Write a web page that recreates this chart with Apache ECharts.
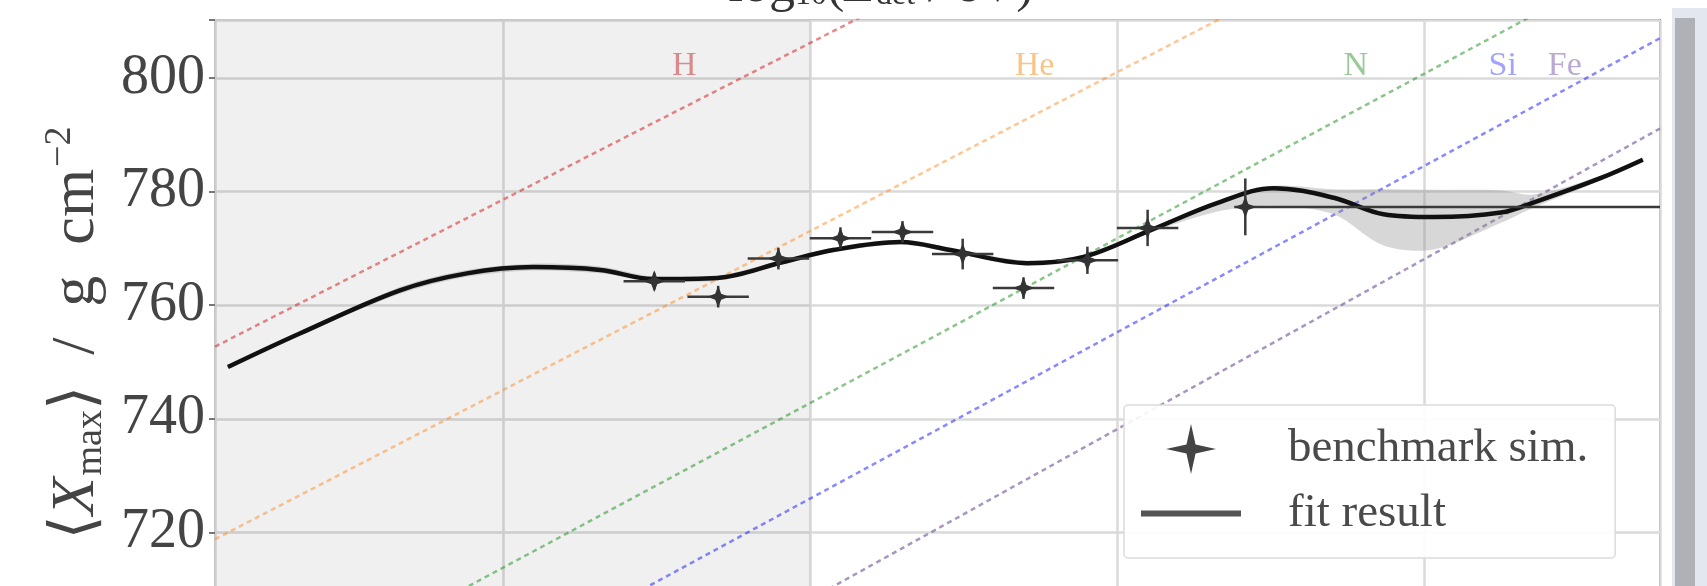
<!DOCTYPE html>
<html><head><meta charset="utf-8">
<script src="https://cdn.jsdelivr.net/npm/echarts@6/dist/echarts.min.js"></script>
<style>html,body{margin:0;padding:0;background:#fff}#c{width:1707px;height:586px}</style>
</head><body><div id="c"></div>
<script>
// ---- data ----
const xRange = [18.031, 20.383];
const yRange = [700, 810.2];
const yTickStep = 20;
// benchmark simulation points
const ptE   = [18.746, 18.850, 18.948, 19.049, 19.150, 19.248, 19.347, 19.451, 19.549, 19.708];
const ptV   = [764.2, 761.5, 768.2, 771.8, 772.9, 769.0, 763.0, 767.9, 773.6, 777.3];
const ptXlo = [18.696, 18.800, 18.898, 18.999, 19.100, 19.198, 19.297, 19.401, 19.499, 19.690];
const ptXhi = [18.796, 18.900, 18.998, 19.099, 19.200, 19.298, 19.397, 19.501, 19.599, 20.383];
const ptYerr = [1.5, 1.9, 1.9, 1.9, 1.9, 2.7, 1.9, 2.4, 3.2, 5.0];
// fit result
const fitE = [18.052, 18.169, 18.332, 18.441, 18.549, 18.658, 18.744, 18.849, 18.956, 19.037, 19.147, 19.228, 19.353, 19.445, 19.554, 19.663, 19.754, 19.852, 19.933, 20.015, 20.124, 20.178, 20.287, 20.355];
const fitV = [749.1, 755.0, 762.6, 765.6, 766.7, 766.2, 764.6, 764.8, 767.6, 769.7, 771.1, 769.7, 767.4, 768.5, 773.2, 778.0, 780.6, 778.9, 776.0, 775.5, 776.3, 778.1, 782.4, 785.6];
const bandLo = [748.9, 754.7, 762.0, 765.0, 766.1, 765.6, 764.2, 764.4, 767.2, 769.3, 770.7, 769.3, 767.0, 768.1, 772.8, 776.5, 777.5, 776.0, 770.5, 769.8, 774.5, 777.2, 782.0, 785.3];
const bandHi = [749.3, 755.3, 763.2, 766.2, 767.3, 766.8, 765.0, 765.2, 768.0, 770.1, 771.5, 770.1, 767.8, 768.9, 773.6, 778.4, 781.0, 780.4, 780.4, 780.3, 780.2, 779.5, 782.8, 785.9];
// composition reference lines (value at xRange[0] and xRange[1])
const compNames = ['H', 'He', 'N', 'Si', 'Fe'];
const compStart = [752.7, 718.8, 686.6, 669.2, 650.2];
const compEnd   = [882.5, 850.5, 823.0, 807.0, 791.1];
const compLabelE = [18.795, 19.365, 19.888, 20.127, 20.228];
const compLabelV = [802.1, 802.1, 802.1, 802.1, 802.1];
const compLineColors  = ['rgba(214,39,40,0.55)', 'rgba(255,127,14,0.45)', 'rgba(44,150,44,0.55)', 'rgba(40,40,255,0.55)', 'rgba(110,80,150,0.6)'];
const compLabelColors = ['rgba(200,60,60,0.7)', 'rgba(245,150,40,0.7)', 'rgba(60,150,60,0.65)', 'rgba(60,60,255,0.6)', 'rgba(120,90,170,0.65)'];
// shaded (excluded) energy range
const shadeRange = [18.031, 19.0];

const SERIF = "'Liberation Serif', 'DejaVu Serif', serif";

const chart = echarts.init(document.getElementById('c'), null, {renderer: 'canvas'});

const compSeries = compNames.map((n, i) => ({
  type: 'line', name: 'comp_' + n, silent: true, symbol: 'none', z: 2,
  data: [[xRange[0], compStart[i]], [xRange[1], compEnd[i]]],
  lineStyle: {color: compLineColors[i], width: 2.5, type: [5, 4]}
}));

function starPts(c, s, w) {
  return [[c[0], c[1]-s], [c[0]+w, c[1]-w], [c[0]+s, c[1]], [c[0]+w, c[1]+w],
          [c[0], c[1]+s], [c[0]-w, c[1]+w], [c[0]-s, c[1]], [c[0]-w, c[1]-w]];
}

const option = {
  animation: false,
  backgroundColor: '#fff',
  grid: {left: 215, right: 47, top: 20, bottom: -60, show: true, borderColor: '#8a8a8a', borderWidth: 2,
         backgroundColor: 'transparent', containLabel: false, outerBoundsMode: 'none'},
  xAxis: {type: 'value', min: xRange[0], max: xRange[1], splitNumber: 5,
          axisLine: {show: false}, axisTick: {show: false}, axisLabel: {show: false},
          splitLine: {show: true, lineStyle: {color: '#dadada', width: 2.5}}},
  yAxis: {type: 'value', min: yRange[0], max: yRange[1], interval: yTickStep,
          name: '{a|⟨}{x|X}{s|max}{a|⟩  / }{a| g  cm}{p|−2}',
          nameLocation: 'middle', nameRotate: 90, nameGap: 100,
          nameTextStyle: {fontFamily: SERIF, fontSize: 62, color: '#444',
            rich: {
              a: {fontFamily: SERIF, fontSize: 62, color: '#444'},
              x: {fontFamily: SERIF, fontSize: 62, fontStyle: 'italic', color: '#444'},
              s: {fontFamily: SERIF, fontSize: 38, color: '#444', padding: [28, 0, 0, 2]},
              p: {fontFamily: SERIF, fontSize: 38, color: '#444', padding: [0, 0, 34, 2]}
            }},
          axisLine: {show: false},
          axisTick: {show: true, length: 6, lineStyle: {color: '#777', width: 2}},
          axisLabel: {fontFamily: SERIF, fontSize: 56, color: '#444', margin: 10,
                      formatter: v => (Math.abs(v % yTickStep) < 1e-6 ? String(v) : '')},
          splitLine: {show: true, lineStyle: {color: '#dadada', width: 2.5}}},
  legend: {
    orient: 'vertical', left: 1124, top: 405, padding: [19, 27, 21, 17],
    itemWidth: 100, itemHeight: 50, itemGap: 16,
    backgroundColor: 'rgba(255,255,255,0.9)', borderColor: '#dcdcdc', borderWidth: 1.5, borderRadius: 4,
    textStyle: {fontFamily: SERIF, fontSize: 47, color: '#4a4a4a', padding: [0, 0, 0, 42]},
    selectedMode: false,
    data: [
      {name: 'benchmark sim.', icon: 'path://M0,-22L4,-4L22,0L4,4L0,22L-4,4L-22,0L-4,-4Z', itemStyle: {color: '#444'}},
      {name: 'fit result', icon: 'path://M0,0L100,0L100,6L0,6Z', itemStyle: {color: '#555'}}
    ]
  },
  graphic: [
    {type: 'rect', shape: {x: 1672, y: 8, width: 35, height: 578}, style: {fill: '#e3e8f0'}, silent: true},
    {type: 'rect', shape: {x: 1675, y: 18, width: 20, height: 568}, style: {fill: '#b0b1b6'}, silent: true},
    {type: 'text', silent: true, style: {
      x: 881, y: 13, align: 'center', verticalAlign: 'bottom',
      text: 'log{s|10}({i|E}{s|det} / eV)',
      font: "52px 'Liberation Serif'", fill: '#333',
      rich: {
        s: {fontFamily: SERIF, fontSize: 32, fill: '#333', padding: [18, 0, 0, 0]},
        i: {fontFamily: SERIF, fontSize: 52, fontStyle: 'italic', fill: '#333'}
      }}}
  ],
  series: [
    {type: 'line', name: 'shade', silent: true, symbol: 'none', data: [], z: 1,
     markArea: {silent: true, itemStyle: {color: 'rgba(0,0,0,0.058)'},
                data: [[{xAxis: shadeRange[0]}, {xAxis: shadeRange[1]}]]}},
    ...compSeries,
    {type: 'custom', name: 'band', silent: true, z: 3, clip: true,
     data: [[fitE[0], fitV[0]]],
     renderItem: (params, api) => {
       const pts = [];
       for (let i = 0; i < fitE.length; i++) pts.push(api.coord([fitE[i], bandHi[i]]));
       for (let i = fitE.length - 1; i >= 0; i--) pts.push(api.coord([fitE[i], bandLo[i]]));
       return {type: 'polygon', shape: {points: pts, smooth: 0.3}, style: {fill: 'rgba(140,140,140,0.35)'}};
     }},
    {type: 'line', name: 'fit result', silent: true, symbol: 'none', smooth: 0.35, z: 5,
     data: fitE.map((e, i) => [e, fitV[i]]),
     lineStyle: {color: '#111', width: 4.5}, itemStyle: {color: '#555'}},
    {type: 'custom', name: 'benchmark sim.', silent: true, z: 6, clip: true,
     itemStyle: {color: '#444'},
     data: ptE.map((e, i) => [e, ptV[i], ptXlo[i], ptXhi[i], ptV[i] - ptYerr[i], ptV[i] + ptYerr[i]]),
     encode: {x: 0, y: 1},
     renderItem: (params, api) => {
       const e = api.value(0), v = api.value(1);
       const c = api.coord([e, v]);
       const l = api.coord([api.value(2), v]), r = api.coord([api.value(3), v]);
       const b = api.coord([e, api.value(4)]), t = api.coord([e, api.value(5)]);
       return {type: 'group', children: [
         {type: 'line', shape: {x1: l[0], y1: l[1], x2: r[0], y2: r[1]}, style: {stroke: '#3a3a3a', lineWidth: 2.5}},
         {type: 'line', shape: {x1: t[0], y1: t[1], x2: b[0], y2: b[1]}, style: {stroke: '#3a3a3a', lineWidth: 2.5}},
         {type: 'polygon', shape: {points: starPts(c, 11, 3)}, style: {fill: '#333'}}
       ]};
     }},
    {type: 'scatter', name: 'labels', silent: true, symbolSize: 1, z: 7,
     itemStyle: {color: 'rgba(0,0,0,0)'},
     data: compNames.map((n, i) => ({name: n, value: [compLabelE[i], compLabelV[i]],
             label: {color: compLabelColors[i]}})),
     label: {show: true, position: 'inside', formatter: '{b}', fontFamily: SERIF, fontSize: 34}}
  ]
};
chart.setOption(option);
</script>
</body></html>
